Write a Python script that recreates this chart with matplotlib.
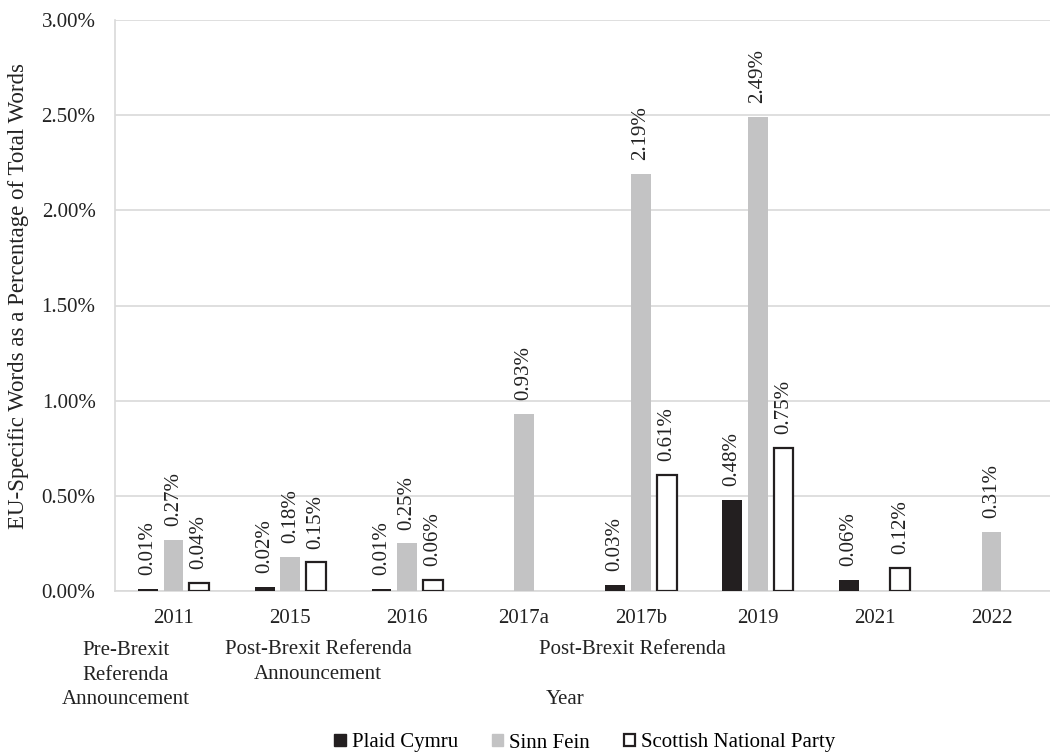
import numpy as np
import matplotlib
matplotlib.use('Agg')
import matplotlib.pyplot as plt
from matplotlib.patches import Patch

# Datos (porcentaje de palabras sobre la UE)
years = ['2011', '2015', '2016', '2017a', '2017b', '2019', '2021', '2022']
plaid_cymru = [0.01, 0.02, 0.01, np.nan, 0.03, 0.48, 0.06, np.nan]
sinn_fein = [0.27, 0.18, 0.25, 0.93, 2.19, 2.49, np.nan, 0.31]
snp = [0.04, 0.15, 0.06, np.nan, 0.61, 0.75, 0.12, np.nan]

series_names = ['Plaid Cymru', 'Sinn Fein', 'Scottish National Party']
y_ticks = [0.0, 0.5, 1.0, 1.5, 2.0, 2.5, 3.0]


def main() -> None:
    plt.rcParams['font.family'] = ['Liberation Serif', 'DejaVu Serif']
    fig = plt.figure(figsize=(10.5, 7.56), dpi=100)
    ax = fig.add_axes([115 / 1050, 1 - 591 / 756, 935 / 1050, 571 / 756])

    x = np.arange(len(years))
    offsets = [-0.22, 0.0, 0.22]
    width = 0.17
    styles = [
        dict(color='#231f20'),
        dict(color='#c3c3c4'),
        dict(facecolor='white', edgecolor='#231f20', linewidth=1.6),
    ]

    for vals, off, st in zip([plaid_cymru, sinn_fein, snp], offsets, styles):
        vals = np.array(vals, dtype=float)
        ax.bar(x + off, vals, width, zorder=3, **st)
        for xi, v in zip(x + off, vals):
            if np.isnan(v):
                continue
            ax.annotate(f'{v:.2f}%', (xi, v), xytext=(0, 10),
                        textcoords='offset points', rotation=90,
                        ha='center', va='bottom', fontsize=15, color='#222222')

    ax.set_xlim(-0.5, len(years) - 0.5)
    ax.set_ylim(0, 3.0)
    ax.set_yticks(y_ticks)
    ax.set_yticklabels([f'{t:.2f}%' for t in y_ticks], fontsize=15)
    ax.set_xticks(x)
    ax.set_xticklabels(years, fontsize=15)
    ax.tick_params(length=0, colors='#222222')
    ax.tick_params(axis='x', pad=13)
    ax.tick_params(axis='y', pad=14)
    ax.grid(axis='y', color='#d9d9d9', linewidth=1.2, zorder=0)
    for s in ['top', 'right']:
        ax.spines[s].set_visible(False)
    for s in ['left', 'bottom']:
        ax.spines[s].set_color('#d9d9d9')
        ax.spines[s].set_linewidth(1.2)

    ax.set_ylabel('EU-Specific Words as a Percentage of Total Words',
                  fontsize=16.5, color='#222222')
    ax.yaxis.set_label_coords(-86 / 935, 0.517)

    # Textos de los periodos debajo del eje
    def ftext(px, py, s):
        fig.text(px / 1050, 1 - py / 756, s, ha='center', va='center',
                 fontsize=15, color='#222222', linespacing=1.4)

    ftext(126, 675, 'Pre-Brexit\nReferenda\nAnnouncement')
    ftext(318, 662, 'Post-Brexit Referenda\nAnnouncement')
    ftext(632, 650, 'Post-Brexit Referenda')
    ftext(565, 699, 'Year')

    handles = [Patch(**st) for st in styles]
    fig.legend(handles, series_names, loc='center',
               bbox_to_anchor=(585 / 1050, 1 - 743 / 756), ncol=3,
               frameon=False, fontsize=15, handlelength=0.55,
               handleheight=0.55, handletextpad=0.3, columnspacing=1.6)

    fig.savefig('out.png', dpi=100)


if __name__ == '__main__':
    main()
